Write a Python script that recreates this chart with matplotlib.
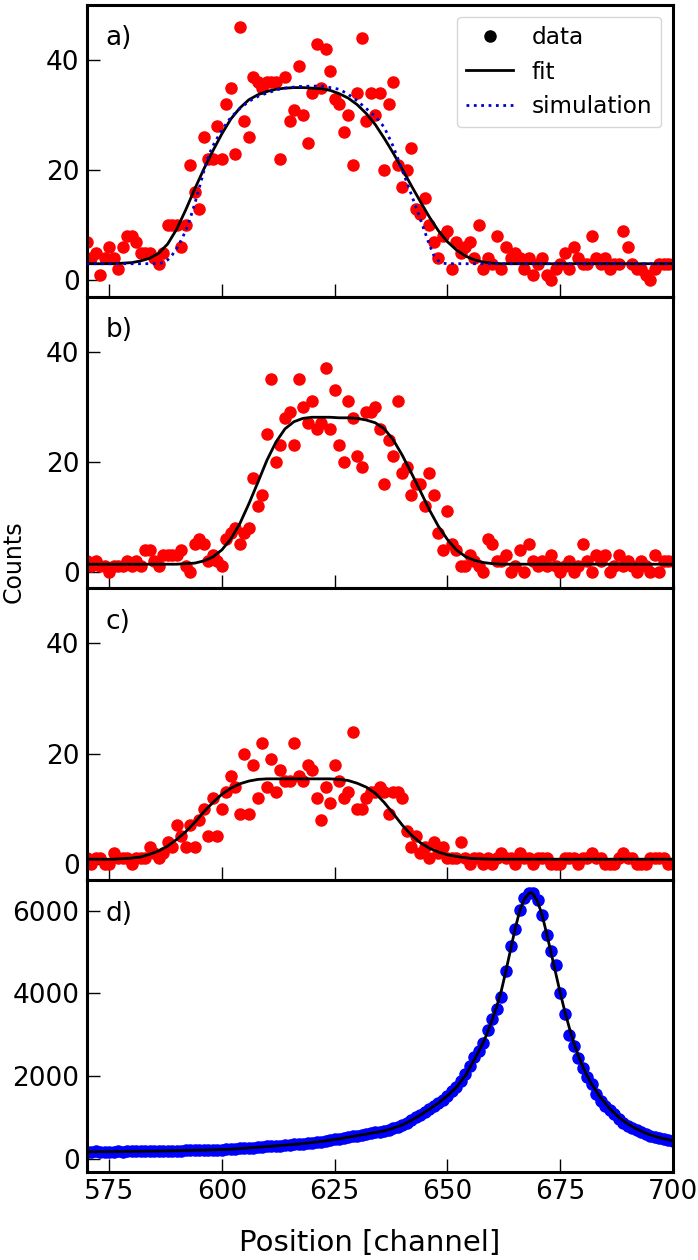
"""
plot.py - stacked position spectra a)-c) with fits, plus reference peak d)

Reads nothing, writes out.png.
"""

import matplotlib
matplotlib.use("Agg")
import matplotlib.pyplot as plt
from matplotlib.lines import Line2D

plt.rcParams.update({
    "font.family": "DejaVu Sans",
    "font.size": 19,
    "axes.linewidth": 2.2,
    "xtick.direction": "in",
    "ytick.direction": "in",
    "xtick.major.size": 9.5,
    "ytick.major.size": 9.5,
    "xtick.major.width": 1.0,
    "ytick.major.width": 1.0,
    "xtick.major.pad": 5,
    "ytick.major.pad": 5,
    "legend.fontsize": 16.7,
})

# channel axis for the measured points (one point per channel)
CHANNELS = list(range(570, 701))
# fit curves of panels a-c are tabulated every second channel
FIT_CHANNELS = list(range(570, 701, 2))

COUNTS_A = [
    7, 4, 5, 1, 4, 6, 4, 2, 6, 8, 8, 7, 5, 5, 5, 4, 3, 5, 10, 10,
    10, 6, 10, 21, 16, 13, 26, 22, 22, 28, 22, 32, 35, 23, 46, 29, 26, 37, 36, 35,
    36, 36, 36, 22, 37, 29, 31, 39, 30, 25, 34, 43, 35, 42, 38, 33, 32, 27, 30, 21,
    34, 44, 29, 34, 30, 34, 20, 32, 36, 21, 17, 20, 24, 13, 12, 15, 10, 7, 4, 8,
    9, 2, 7, 5, 6, 7, 4, 10, 2, 4, 3, 8, 2, 6, 4, 5, 4, 2, 4, 1,
    3, 4, 1, 0, 2, 3, 5, 2, 6, 4, 3, 3, 8, 4, 3, 4, 2, 3, 3, 9,
    6, 3, 2, 2, 1, 0, 2, 3, 3, 3, 3,
]
COUNTS_B = [
    2, 1, 2, 1, 1, 0, 1, 1, 1, 2, 1, 2, 1, 4, 4, 2, 1, 3, 3, 3,
    3, 4, 1, 0, 5, 6, 5, 2, 3, 2, 1, 6, 7, 8, 5, 7, 8, 17, 12, 14,
    25, 35, 20, 23, 28, 29, 23, 35, 30, 27, 31, 26, 27, 37, 26, 33, 23, 20, 31, 28,
    21, 19, 29, 29, 30, 26, 16, 24, 21, 31, 18, 19, 14, 16, 16, 12, 18, 14, 7, 4,
    11, 5, 4, 1, 1, 3, 2, 1, 0, 6, 5, 2, 2, 3, 0, 1, 4, 0, 5, 2,
    1, 2, 1, 3, 1, 0, 1, 2, 0, 1, 5, 2, 0, 3, 2, 3, 0, 1, 3, 1,
    2, 1, 0, 2, 1, 0, 3, 0, 2, 2, 2,
]
COUNTS_C = [
    1, 0, 1, 1, 0, 0, 2, 1, 1, 1, 0, 1, 1, 1, 3, 2, 1, 2, 4, 3,
    7, 5, 3, 7, 3, 8, 10, 5, 12, 5, 10, 13, 16, 14, 9, 20, 9, 18, 12, 22,
    14, 19, 13, 17, 15, 15, 22, 16, 15, 18, 17, 12, 8, 14, 11, 18, 15, 12, 13, 24,
    10, 10, 12, 13, 13, 14, 13, 9, 13, 13, 12, 6, 3, 5, 2, 3, 1, 4, 2, 3,
    1, 1, 1, 4, 1, 0, 1, 1, 0, 1, 0, 1, 2, 1, 1, 0, 2, 1, 1, 0,
    1, 1, 1, 0, 0, 0, 1, 1, 1, 0, 1, 1, 2, 1, 1, 0, 0, 0, 1, 2,
    1, 1, 0, 0, 0, 1, 1, 1, 1, 0, 0,
]
COUNTS_D = [
    170, 168, 172, 170, 168, 171, 170, 173, 170, 172,
    175, 173, 176, 178, 176, 180, 182, 184, 186, 188,
    190, 193, 196, 198, 200, 203, 205, 208, 210, 212,
    215, 222, 228, 236, 244, 252, 260, 268, 276, 285,
    293, 300, 308, 315, 325, 333, 343, 352, 362, 373,
    385, 398, 412, 428, 445, 462, 478, 495, 515, 535,
    555, 575, 595, 615, 635, 650, 670, 700, 730, 775,
    820, 870, 940, 1000, 1060, 1130, 1200, 1270, 1340, 1420,
    1520, 1640, 1740, 1880, 2050, 2230, 2460, 2600, 2800, 3100,
    3380, 3620, 3920, 4550, 5150, 5550, 6010, 6300, 6420, 6420,
    6250, 5900, 5400, 5030, 4680, 4000, 3500, 3000, 2720, 2430,
    2200, 1970, 1800, 1560, 1390, 1280, 1180, 1070, 960, 870,
    800, 745, 700, 655, 590, 550, 520, 495, 465, 445,
    430,
]

FIT_A = [
    3.0, 3.0, 3.0, 3.0, 3.1, 3.2, 3.5, 4.0, 4.9, 6.6,
    9.3, 12.8, 16.6, 20.2, 23.5, 26.6, 29.3, 31.3, 32.8, 33.7,
    34.3, 34.7, 34.9, 35.0, 35.0, 34.9, 34.8, 34.5, 33.9, 33.1,
    31.9, 30.3, 28.3, 25.8, 23.1, 20.2, 17.2, 14.3, 11.5, 9.0,
    7.0, 5.5, 4.4, 3.7, 3.3, 3.1, 3.0, 3.0, 3.0, 3.0,
    3.0, 3.0, 3.0, 3.0, 3.0, 3.0, 3.0, 3.0, 3.0, 3.0,
    3.0, 3.0, 3.0, 3.0, 3.0, 3.0,
]
FIT_B = [
    1.4, 1.4, 1.4, 1.4, 1.4, 1.4, 1.4, 1.4, 1.4, 1.4,
    1.4, 1.5, 1.6, 2.0, 2.7, 4.0, 6.0, 8.8, 12.4, 16.3,
    20.3, 23.6, 26.0, 27.3, 27.9, 28.1, 28.1, 28.1, 28.0, 28.0,
    27.9, 27.6, 27.1, 26.0, 24.0, 21.2, 18.0, 14.7, 11.3, 8.3,
    5.9, 4.0, 2.8, 2.1, 1.7, 1.5, 1.4, 1.4, 1.4, 1.4,
    1.4, 1.4, 1.4, 1.4, 1.4, 1.4, 1.4, 1.4, 1.4, 1.4,
    1.4, 1.4, 1.4, 1.4, 1.4, 1.4,
]
FIT_C = [
    0.8, 0.8, 0.8, 0.8, 0.9, 1.0, 1.2, 1.7, 2.3, 3.2,
    4.4, 5.8, 7.5, 9.4, 11.1, 12.6, 13.7, 14.5, 15.0, 15.3,
    15.4, 15.4, 15.4, 15.4, 15.4, 15.4, 15.4, 15.4, 15.3, 15.1,
    14.6, 13.9, 12.8, 11.1, 9.1, 7.0, 5.2, 3.8, 2.8, 2.1,
    1.6, 1.3, 1.05, 0.9, 0.85, 0.8, 0.8, 0.8, 0.8, 0.8,
    0.8, 0.8, 0.8, 0.8, 0.8, 0.8, 0.8, 0.8, 0.8, 0.8,
    0.8, 0.8, 0.8, 0.8, 0.8, 0.8,
]

# peak fit in d) is tabulated more finely around the maximum
FIT_D_X = [
    570, 574, 578, 582, 586, 590, 594, 598, 602, 606, 610, 614, 618, 622,
    626, 630, 634, 636, 638, 640, 642, 644, 646, 648, 650, 652, 654, 656,
    657, 658, 659, 660, 661, 662, 663, 664, 665, 666, 667, 668, 668.6,
    669, 670, 671, 672, 673, 674, 675, 676, 677, 678, 679, 680, 681, 682,
    684, 686, 688, 690, 692, 694, 696, 698, 700,
]
FIT_D = [
    165, 168, 172, 177, 182, 190, 200, 212, 228, 258, 292, 326, 364, 414,
    478, 555, 632, 672, 735, 815, 925, 1055, 1195, 1345, 1520, 1725, 2010, 2400,
    2600, 2820, 3080, 3380, 3700, 4080, 4550, 5050, 5550, 5980, 6270, 6410, 6440,
    6400, 6220, 5900, 5450, 4980, 4500, 4020, 3580, 3180, 2820, 2500, 2230, 2000, 1800,
    1470, 1210, 1000, 840, 715, 615, 540, 480, 435,
]

# simulated profile for a)
SIM_X = [
    570, 586, 587, 588, 589, 590, 591, 592, 593, 594, 595, 596, 597, 598,
    600, 602, 604, 606, 608, 610, 613, 617, 622, 626, 628, 630, 632, 634,
    636, 638, 640, 642, 644, 646, 647, 648, 649, 650, 700,
]
SIM_A = [
    3.0, 3.0, 3.2, 3.7, 4.6, 5.8, 7.3, 9.0, 11.3, 13.9, 16.8, 19.8, 22.5, 24.4,
    27.3, 29.6, 31.2, 32.5, 33.4, 34.0, 34.8, 35.2, 35.3, 34.7, 33.8, 32.6, 31.2, 29.8,
    27.8, 24.3, 20.0, 15.6, 11.1, 6.5, 4.5, 3.5, 3.1, 3.0, 3.0,
]

PANEL_LABELS = ["a)", "b)", "c)", "d)"]
X_TICKS = [575, 600, 625, 650, 675, 700]


def draw_panel(ax, counts, fit_x, fit_y, color, label, yticks, ylim):
    """Draw one panel: measured points plus the black fit line."""
    ax.plot(CHANNELS, counts, "o", color=color, ms=8, mec=color, zorder=2)
    ax.plot(fit_x, fit_y, "-", color="black", lw=2.0, zorder=3)
    ax.set_xlim(570, 700)
    ax.set_ylim(*ylim)
    ax.set_xticks(X_TICKS)
    ax.set_yticks(yticks)
    ax.text(0.032, 0.93, label, transform=ax.transAxes, ha="left", va="top")


def main():
    fig = plt.figure(figsize=(6.98, 12.6), dpi=100)
    gs = fig.add_gridspec(4, 1, left=0.124, right=0.964, top=0.996,
                          bottom=0.070, hspace=0)
    axes = [fig.add_subplot(gs[i]) for i in range(4)]

    small_ticks = [0, 20, 40]
    draw_panel(axes[0], COUNTS_A, FIT_CHANNELS, FIT_A, "red", PANEL_LABELS[0],
               small_ticks, (-3, 50))
    axes[0].plot(SIM_X, SIM_A, ":", color="mediumblue", lw=2.0, zorder=3)
    draw_panel(axes[1], COUNTS_B, FIT_CHANNELS, FIT_B, "red", PANEL_LABELS[1],
               small_ticks, (-3, 50))
    draw_panel(axes[2], COUNTS_C, FIT_CHANNELS, FIT_C, "red", PANEL_LABELS[2],
               small_ticks, (-3, 50))
    draw_panel(axes[3], COUNTS_D, FIT_D_X, FIT_D, "blue", PANEL_LABELS[3],
               [0, 2000, 4000, 6000], (-320, 6740))

    for ax in axes[:3]:
        ax.tick_params(labelbottom=False)

    handles = [
        Line2D([], [], color="black", marker="o", ls="none", ms=8),
        Line2D([], [], color="black", lw=2.0),
        Line2D([], [], color="mediumblue", lw=2.0, ls=":"),
    ]
    axes[0].legend(handles, ["data", "fit", "simulation"], loc="upper right",
                   borderaxespad=0.5)

    fig.text(0.53, 0.0135, "Position [channel]", ha="center", va="center",
             fontsize=21)
    fig.text(0.02, 0.554, "Counts", ha="center", va="center", rotation=90,
             fontsize=17)

    fig.savefig("out.png", dpi=100)
    plt.close(fig)


if __name__ == "__main__":
    main()
